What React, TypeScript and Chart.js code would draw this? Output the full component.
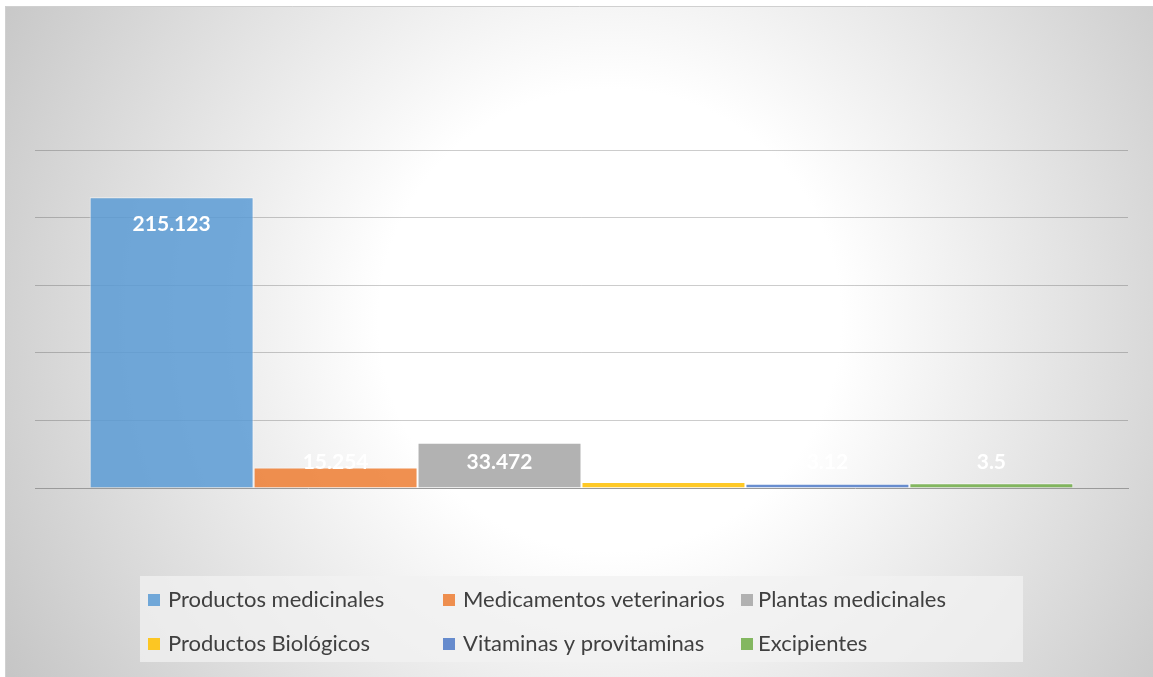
import React, { useEffect, useRef } from "react";
import { Chart, registerables } from "chart.js";

Chart.register(...registerables);

const categories = [""];
const seriesNames = [
  "Productos medicinales",
  "Medicamentos veterinarios",
  "Plantas medicinales",
  "Productos Biológicos",
  "Vitaminas y provitaminas",
  "Excipientes",
];
const seriesValues = [215.123, 15.254, 33.472, 4.4, 3.12, 3.5];
const valueLabels = ["215.123", "15.254", "33.472", "4.4", "3.12", "3.5"];
const seriesColors = [
  "rgba(91,155,213,0.85)",
  "rgba(237,125,49,0.85)",
  "rgba(165,165,165,0.85)",
  "rgba(255,192,0,0.85)",
  "rgba(68,114,196,0.8)",
  "rgba(112,173,71,0.85)",
];
const yMax = 250;
const yStep = 50;

const bgPlugin = {
  id: "bgPlugin",
  beforeDraw(chart: any) {
    const { ctx, width, height } = chart;
    ctx.save();
    ctx.fillStyle = "#ffffff";
    ctx.fillRect(0, 0, width, height);
    const g = ctx.createRadialGradient(610, 320, 0, 610, 320, 770);
    g.addColorStop(0, "#ffffff");
    g.addColorStop(0.3, "#ffffff");
    g.addColorStop(1, "#bdbdbd");
    ctx.fillStyle = g;
    ctx.fillRect(5, 6, width - 5, height - 6);
    ctx.strokeStyle = "#d0d0d0";
    ctx.lineWidth = 1;
    ctx.beginPath();
    ctx.moveTo(5.5, height);
    ctx.lineTo(5.5, 6.5);
    ctx.lineTo(width, 6.5);
    ctx.stroke();
    ctx.restore();
  },
};

const labelPlugin = {
  id: "labelPlugin",
  afterDatasetsDraw(chart: any) {
    const { ctx } = chart;
    const base = chart.scales.y.getPixelForValue(0);
    ctx.save();
    ctx.font = "bold 21px Lato, 'Open Sans', sans-serif";
    ctx.fillStyle = "#ffffff";
    ctx.textAlign = "center";
    ctx.textBaseline = "middle";
    chart.data.datasets.forEach((ds: any, i: number) => {
      const meta = chart.getDatasetMeta(i);
      meta.data.forEach((bar: any) => {
        const y = Math.min(bar.y + 27, base - 26);
        ctx.fillText(valueLabels[i], bar.x, y);
      });
    });
    ctx.restore();
  },
};

const legendPlugin = {
  id: "customLegend",
  afterDraw(chart: any) {
    const { ctx } = chart;
    ctx.save();
    ctx.fillStyle = "rgba(242,242,242,0.75)";
    ctx.fillRect(140, 576, 883, 86);
    const cols = [148, 443, 741];
    const rows = [600, 644];
    ctx.font = "22px Lato, 'Open Sans', sans-serif";
    ctx.textBaseline = "middle";
    ctx.textAlign = "left";
    seriesNames.forEach((name, i) => {
      const cx = cols[i % 3];
      const cy = rows[Math.floor(i / 3)];
      ctx.fillStyle = seriesColors[i];
      ctx.fillRect(cx, cy - 6, 12, 12);
      ctx.fillStyle = "#404040";
      ctx.fillText(name, cx + (i % 3 === 2 ? 17 : 20), cy);
    });
    ctx.restore();
  },
};

export default function App() {
  const canvasRef = useRef<HTMLCanvasElement | null>(null);
  useEffect(() => {
    const chart = new Chart(canvasRef.current as HTMLCanvasElement, {
      type: "bar",
      data: {
        labels: categories,
        datasets: seriesNames.map((name, i) => ({
          label: name,
          data: [seriesValues[i]],
          backgroundColor: seriesColors[i],
          borderColor: "rgba(255,255,255,0.6)",
          borderWidth: 1,
          categoryPercentage: 0.9,
          barPercentage: 1,
        })),
      },
      options: {
        animation: false,
        responsive: true,
        maintainAspectRatio: false,
        layout: { padding: { left: 35, right: 25, top: 150, bottom: 189 } },
        plugins: {
          legend: { display: false },
          tooltip: { enabled: false },
        },
        scales: {
          x: {
            ticks: { display: false },
            grid: { display: false, drawTicks: false },
            border: { display: true, color: "#9a9a9a", width: 1 },
          },
          y: {
            min: 0,
            max: yMax,
            ticks: { display: false, stepSize: yStep },
            grid: {
              drawTicks: false,
              color: (c: any) => (c.tick && c.tick.value === 0 ? "rgba(0,0,0,0)" : "rgba(0,0,0,0.2)"),
            },
            border: { display: false },
          },
        },
      },
      plugins: [bgPlugin, labelPlugin, legendPlugin],
    });
    return () => chart.destroy();
  }, []);
  return (
    <div style={{ position: "fixed", left: 0, top: 0, width: 1153, height: 677 }}>
      <canvas ref={canvasRef} />
    </div>
  );
}
